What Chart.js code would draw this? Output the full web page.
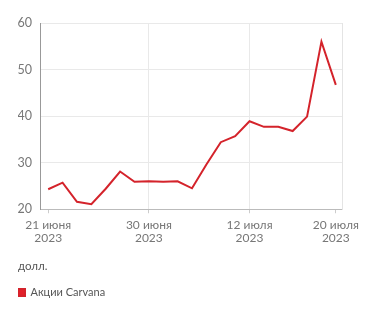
<!DOCTYPE html>
<html>
<head>
<meta charset="utf-8">
<script src="https://cdn.jsdelivr.net/npm/chart.js"></script>
<style>
  html, body { margin: 0; padding: 0; background: #fff; }
  #wrap { width: 371px; height: 316px; position: relative; }
</style>
</head>
<body>
<div id="wrap"><canvas id="carvanaChart"></canvas></div>
<script>
// Торговые дни 21.06.2023 – 20.07.2023
const dates = ['21 июня', '22 июня', '23 июня', '26 июня', '27 июня', '28 июня', '29 июня', '30 июня',
               '3 июля', '5 июля', '6 июля', '7 июля', '10 июля', '11 июля', '12 июля',
               '13 июля', '14 июля', '17 июля', '18 июля', '19 июля', '20 июля'];
const prices = [24.3, 25.7, 21.6, 21.1, 24.4, 28.1, 25.9, 26.0, 25.9, 26.0, 24.5,
                29.6, 34.4, 35.7, 38.9, 37.7, 37.7, 36.8, 39.9, 56.0, 46.7];
const tickIndexes = [0, 7, 14, 20];
const yTicks = [20, 30, 40, 50, 60];
const year = '2023';

const RED = '#d4232b';
const TEXT = '#777';
const GRID = '#e9e9e9';

const ctx = document.getElementById('carvanaChart');

new Chart(ctx, {
    type: 'line',
    data: {
        datasets: [{
            label: 'Акции Carvana',
            data: prices.map((v, i) => ({ x: i, y: v })),
            borderColor: RED,
            backgroundColor: '#e3202a',
            borderWidth: 2,
            pointRadius: 0,
            tension: 0
        }]
    },
    options: {
        responsive: true,
        maintainAspectRatio: false,
        animation: false,
        layout: {
            padding: { top: 23, left: 18, right: 29, bottom: 8 }
        },
        scales: {
            x: {
                type: 'linear',
                min: -0.57,
                max: 20.43,
                afterBuildTicks: axis => {
                    axis.ticks = tickIndexes.map(v => ({ value: v }));
                },
                grid: {
                    color: c => (c.index === 0 || c.index === tickIndexes.length - 1) ? 'rgba(0,0,0,0)' : GRID,
                    tickColor: '#ccc',
                    tickLength: 4
                },
                border: { color: '#bbb' },
                ticks: {
                    color: TEXT,
                    font: { family: 'Lato', size: 12, lineHeight: 1.04 },
                    maxRotation: 0,
                    padding: 6,
                    autoSkip: false,
                    callback: value => [dates[value], year]
                }
            },
            y: {
                min: 20,
                max: 60,
                afterBuildTicks: axis => {
                    axis.ticks = yTicks.map(v => ({ value: v }));
                },
                afterFit: axis => { axis.width = 22; },
                grid: { color: GRID, drawTicks: false },
                border: { color: '#999' },
                ticks: {
                    color: TEXT,
                    font: { family: 'Lato', size: 12.5 },
                    padding: 8
                }
            },
            y2: {
                position: 'right',
                min: 20,
                max: 60,
                grid: { drawOnChartArea: false, drawTicks: false },
                border: { color: '#e4e4e4' },
                ticks: { display: false }
            }
        },
        plugins: {
            title: {
                display: true,
                text: 'долл.',
                position: 'bottom',
                align: 'start',
                weight: 500,
                color: '#555',
                font: { family: 'Lato', size: 11.5, weight: 'normal' },
                padding: { top: 9, bottom: 14 }
            },
            legend: {
                position: 'bottom',
                align: 'start',
                labels: {
                    boxWidth: 7,
                    boxHeight: 7,
                    padding: 0,
                    color: '#555',
                    font: { family: 'Lato', size: 11 }
                }
            },
            tooltip: { enabled: false }
        }
    }
});
</script>
</body>
</html>
